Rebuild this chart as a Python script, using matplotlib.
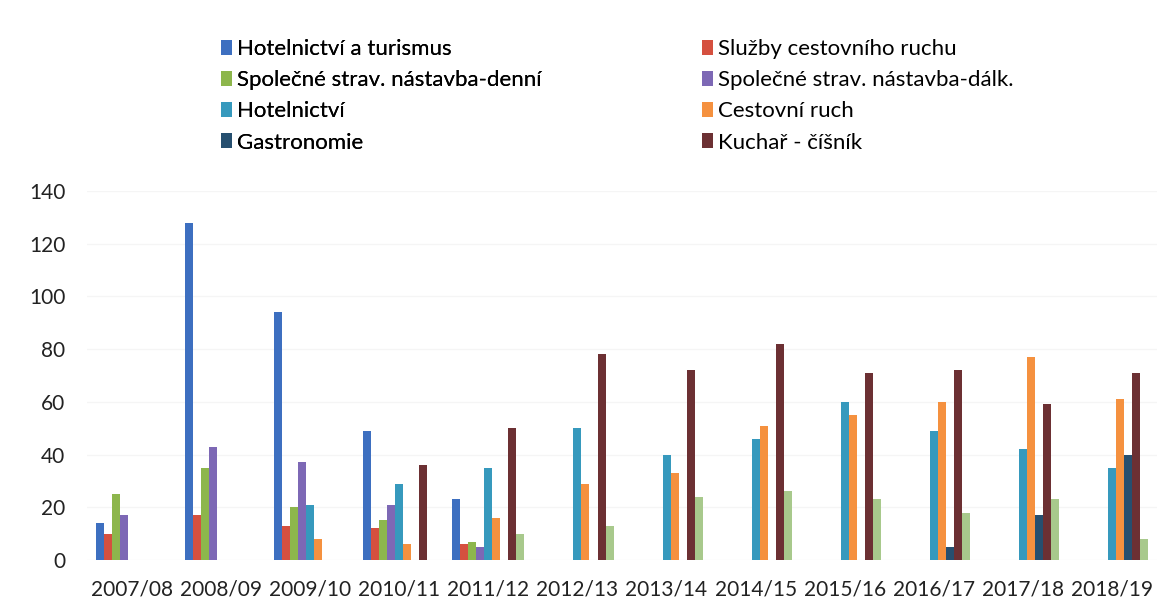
import numpy as np
import matplotlib
matplotlib.use("Agg")
import matplotlib.pyplot as plt
from matplotlib.patches import Patch

plt.rcParams['font.family'] = ['Lato', 'DejaVu Sans']

years = ["2007/08", "2008/09", "2009/10", "2010/11", "2011/12", "2012/13",
         "2013/14", "2014/15", "2015/16", "2016/17", "2017/18", "2018/19"]

# Počty žáků podle oboru (0 = obor v daném roce neotevřen)
hotelnictvi_turismus = [14, 128, 94, 49, 23, 0, 0, 0, 0, 0, 0, 0]
sluzby_cr = [10, 17, 13, 12, 6, 0, 0, 0, 0, 0, 0, 0]
strav_denni = [25, 35, 20, 15, 7, 0, 0, 0, 0, 0, 0, 0]
strav_dalk = [17, 43, 37, 21, 5, 0, 0, 0, 0, 0, 0, 0]
hotelnictvi = [0, 0, 21, 29, 35, 50, 40, 46, 60, 49, 42, 35]
cestovni_ruch = [0, 0, 8, 6, 16, 29, 33, 51, 55, 60, 77, 61]
gastronomie = [0, 0, 0, 0, 0, 0, 0, 0, 0, 5, 17, 40]
kuchar_cisnik = [0, 0, 0, 36, 50, 78, 72, 82, 71, 72, 59, 71]
dalsi_obor = [0, 0, 0, 0, 10, 13, 24, 26, 23, 18, 23, 8]

labels = ["Hotelnictví a turismus", "Služby cestovního ruchu",
          "Společné strav. nástavba-denní", "Společné strav. nástavba-dálk.",
          "Hotelnictví", "Cestovní ruch", "Gastronomie", "Kuchař - číšník", None]
series = [hotelnictvi_turismus, sluzby_cr, strav_denni, strav_dalk, hotelnictvi,
          cestovni_ruch, gastronomie, kuchar_cisnik, dalsi_obor]
colors = ["#3d6fc0", "#d5503f", "#8db64c", "#7d68b5", "#3699bd",
          "#f5913f", "#264f6f", "#6c3033", "#a8c98c"]

fig = plt.figure(figsize=(11.57, 6.03), dpi=100)
ax = fig.add_axes([0.0756, 0.0713, 0.924, 0.612])

x = np.arange(len(years))
n = len(series)
w = 0.09
for i, (vals, col) in enumerate(zip(series, colors)):
    ax.bar(x + (i - (n - 1) / 2) * w, vals, width=w, color=col, zorder=3)

ax.set_xlim(-0.5, len(years) - 0.5)
ax.set_ylim(0, 140)
ax.set_yticks(np.arange(0, 141, 20))
ax.set_xticks(x)
ax.set_xticklabels(years)
ax.tick_params(axis='both', length=0, labelsize=15, colors="#222222")
ax.tick_params(axis='y', pad=16)
ax.tick_params(axis='x', pad=14)
ax.grid(axis='y', color="#f5f5f5", linewidth=1, zorder=0)
for s in ax.spines.values():
    s.set_visible(False)

handles = [Patch(facecolor=c, edgecolor='none', label=l)
           for c, l in zip(colors, labels) if l is not None]
left_col = [handles[0], handles[2], handles[4], handles[6]]
right_col = [handles[1], handles[3], handles[5], handles[7]]
common = dict(frameon=False, fontsize=16, handlelength=0.5, handleheight=0.65,
              handletextpad=0.2, labelspacing=0.50, borderaxespad=0, borderpad=0,
              loc='upper left')
leg1 = fig.legend(handles=left_col, bbox_to_anchor=(0.191, 0.935), **common)
fig.add_artist(leg1)
fig.legend(handles=right_col, bbox_to_anchor=(0.607, 0.935), **common)

fig.savefig("out.png", dpi=100, facecolor="white")
